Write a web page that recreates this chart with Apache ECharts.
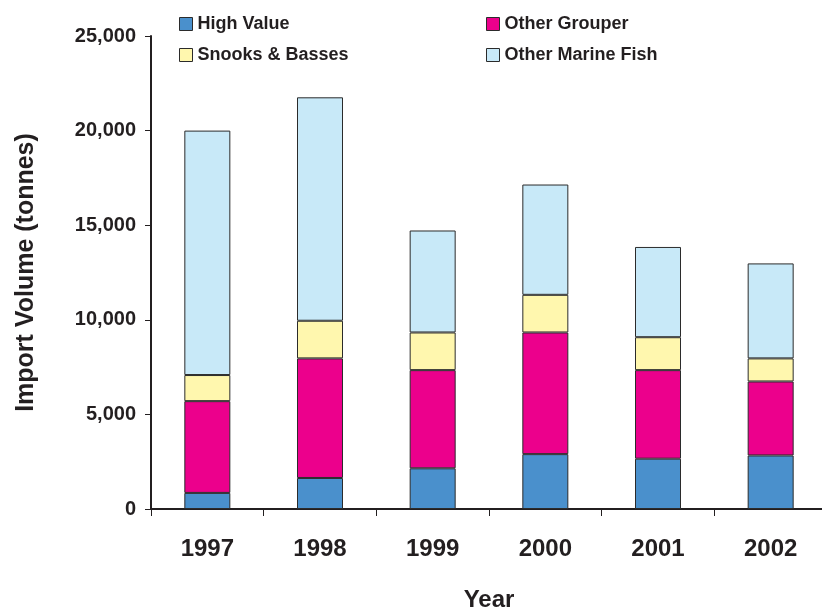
<!DOCTYPE html>
<html>
<head>
<meta charset="utf-8">
<script src="https://cdn.jsdelivr.net/npm/echarts@6/dist/echarts.min.js"></script>
<style>
  html, body { margin: 0; padding: 0; background: #fff; }
  #chart { width: 822px; height: 609px; }
</style>
</head>
<body>
<div id="chart"></div>
<script>
// Import volumes by category, tonnes
const years = ['1997', '1998', '1999', '2000', '2001', '2002'];
const highValue = [850, 1640, 2150, 2900, 2660, 2830];
const otherGrouper = [4850, 6320, 5190, 6430, 4680, 3910];
const snooksBasses = [1380, 1990, 1990, 1990, 1740, 1220];
const otherMarineFish = [12920, 11810, 5390, 5830, 4770, 5020];
const yTicks = [0, 5000, 10000, 15000, 20000, 25000];

const FONT = 'Liberation Sans, Arial, sans-serif';
const INK = '#231f20';

function stack(name, data, color) {
  return {
    name: name,
    type: 'bar',
    stack: 'total',
    data: data,
    barWidth: 46,
    itemStyle: { color: color, borderColor: '#2b2b2b', borderWidth: 1 }
  };
}

const legendText = { fontFamily: FONT, fontSize: 18, fontWeight: 'bold', color: INK, lineHeight: 20 };
const legendBase = {
  orient: 'vertical',
  top: 14,
  padding: 0,
  itemWidth: 13,
  itemHeight: 13,
  itemGap: 11,
  icon: 'rect',
  selectedMode: false,
  textStyle: legendText,
  itemStyle: { borderColor: '#2b2b2b', borderWidth: 1 }
};

const chart = echarts.init(document.getElementById('chart'), null, { renderer: 'canvas' });
chart.setOption({
  animation: false,
  backgroundColor: '#ffffff',
  textStyle: { fontFamily: FONT },
  legend: [
    Object.assign({}, legendBase, { left: 179, data: ['High Value', 'Snooks & Basses'] }),
    Object.assign({}, legendBase, { left: 486, data: ['Other Grouper', 'Other Marine Fish'] })
  ],
  grid: { left: 151, top: 36, width: 676, height: 473, containLabel: false, outerBoundsMode: 'none' },
  xAxis: {
    type: 'category',
    data: years,
    name: 'Year',
    nameLocation: 'middle',
    nameGap: 79,
    nameTextStyle: { fontFamily: FONT, fontSize: 24, fontWeight: 'bold', color: INK },
    axisLine: { lineStyle: { color: INK, width: 2 } },
    axisTick: { show: true, length: 7, lineStyle: { color: INK, width: 1 } },
    axisLabel: { margin: 28, fontFamily: FONT, fontSize: 24, fontWeight: 'bold', color: INK }
  },
  yAxis: {
    type: 'value',
    min: yTicks[0],
    max: yTicks[yTicks.length - 1],
    interval: yTicks[1] - yTicks[0],
    name: 'Import Volume (tonnes)',
    nameLocation: 'middle',
    nameGap: 112,
    nameTextStyle: { fontFamily: FONT, fontSize: 25, fontWeight: 'bold', color: INK },
    splitLine: { show: false },
    axisLine: { show: true, lineStyle: { color: INK, width: 2 } },
    axisTick: { show: true, length: 6, lineStyle: { color: INK, width: 1 } },
    axisLabel: {
      margin: 15,
      fontFamily: FONT,
      fontSize: 20,
      fontWeight: 'bold',
      color: INK,
      formatter: v => v.toLocaleString('en-US')
    }
  },
  series: [
    stack('High Value', highValue, '#4a90cc'),
    stack('Other Grouper', otherGrouper, '#ec008c'),
    stack('Snooks & Basses', snooksBasses, '#fff7ae'),
    stack('Other Marine Fish', otherMarineFish, '#c8e9f8')
  ]
});
</script>
</body>
</html>
